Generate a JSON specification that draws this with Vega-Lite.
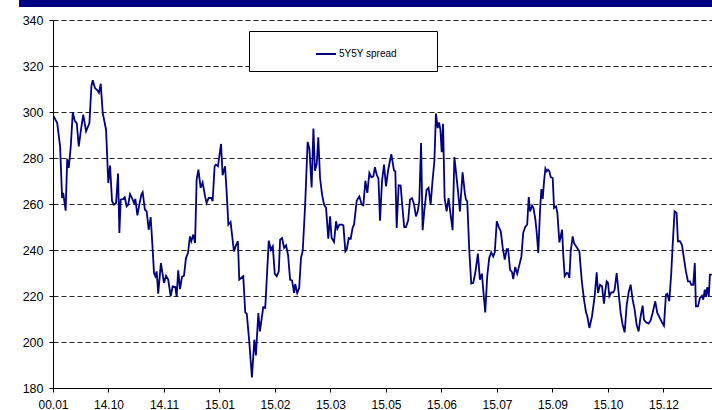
{
  "$schema": "https://vega.github.io/schema/vega-lite/v6.json",
  "width": 659,
  "height": 368,
  "autosize": {"type": "none"},
  "padding": {"left": 53, "top": 20, "right": 0, "bottom": 22},
  "background": "white",
  "config": {"view": {"stroke": null}, "font": "Liberation Sans"},
  "layer": [
    {
      "data": {"values": [{}]},
      "mark": {"type": "rect", "color": "#000080", "clip": false},
      "encoding": {
        "x": {"datum": -15.3, "type": "quantitative"},
        "x2": {"datum": 297},
        "y": {"datum": 345.6, "type": "quantitative"},
        "y2": {"datum": 352}
      }
    },
    {
      "data": {"values": [
        {"day":0,"spread":298.6},{"day":1.9,"spread":295.2},{"day":3.2,"spread":285},{"day":4.1,"spread":262.6},{"day":4.6,"spread":264.8},{"day":5.7,"spread":257.1},{"day":6.4,"spread":279.6},{"day":7.1,"spread":275.7},{"day":8.0,"spread":285},{"day":8.9,"spread":299.9},{"day":9.8,"spread":296.2},{"day":10.7,"spread":295.2},{"day":11.6,"spread":285},{"day":12.5,"spread":291.6},{"day":13.6,"spread":298.8},{"day":14.9,"spread":291.6},{"day":16.4,"spread":295.2},{"day":17.3,"spread":311.2},{"day":17.9,"spread":313.8},{"day":18.9,"spread":310.4},{"day":20.0,"spread":309.4},{"day":20.7,"spread":308.3},{"day":21.5,"spread":312.3},{"day":22.4,"spread":299.6},{"day":23.9,"spread":292.3},{"day":24.9,"spread":269.1},{"day":25.7,"spread":276.7},{"day":26.6,"spread":261.2},{"day":27.5,"spread":259.7},{"day":28.4,"spread":260.4},{"day":29.3,"spread":273.2},{"day":29.9,"spread":247.4},{"day":30.5,"spread":261.9},{"day":31.7,"spread":262.2},{"day":32.3,"spread":262.9},{"day":33.2,"spread":259},{"day":33.9,"spread":259.7},{"day":34.7,"spread":264.3},{"day":35.6,"spread":262.6},{"day":36.5,"spread":260.4},{"day":37.1,"spread":262.2},{"day":38.0,"spread":255.1},{"day":38.9,"spread":259.7},{"day":39.8,"spread":264.1},{"day":40.4,"spread":265.1},{"day":41.4,"spread":257.5},{"day":42.2,"spread":256.8},{"day":43.1,"spread":248.8},{"day":44.0,"spread":254.3},{"day":44.9,"spread":240.1},{"day":45.5,"spread":230},{"day":46.1,"spread":228.6},{"day":46.7,"spread":230.7},{"day":47.4,"spread":221},{"day":48.6,"spread":234.3},{"day":49.4,"spread":229.3},{"day":50.0,"spread":225.7},{"day":50.9,"spread":228.8},{"day":51.9,"spread":227.1},{"day":53.0,"spread":219.9},{"day":53.9,"spread":224.2},{"day":55.1,"spread":223.9},{"day":55.7,"spread":219.6},{"day":56.4,"spread":231.2},{"day":57.2,"spread":223},{"day":58.1,"spread":228.3},{"day":59.0,"spread":228.8},{"day":59.9,"spread":236.5},{"day":60.8,"spread":238.7},{"day":61.7,"spread":245.9},{"day":62.3,"spread":243.8},{"day":63.2,"spread":246.7},{"day":64.0,"spread":243},{"day":64.7,"spread":270.6},{"day":65.5,"spread":274.9},{"day":66.5,"spread":267},{"day":67.4,"spread":269.4},{"day":68.5,"spread":263.3},{"day":69.2,"spread":260.4},{"day":70.1,"spread":262.6},{"day":71.3,"spread":262.6},{"day":71.9,"spread":261.2},{"day":72.8,"spread":276.4},{"day":73.4,"spread":277.1},{"day":74.3,"spread":276.4},{"day":75.7,"spread":286.1},{"day":76.4,"spread":272.5},{"day":77.5,"spread":276.4},{"day":78.2,"spread":265.5},{"day":79.0,"spread":251},{"day":80.0,"spread":252.2},{"day":81.5,"spread":239.4},{"day":82.4,"spread":242},{"day":83.3,"spread":243.8},{"day":83.9,"spread":227.1},{"day":85.7,"spread":228.6},{"day":86.6,"spread":212.9},{"day":87.3,"spread":212.2},{"day":88.4,"spread":200.3},{"day":89.6,"spread":184.6},{"day":90.7,"spread":201},{"day":91.4,"spread":194.2},{"day":92.5,"spread":212.6},{"day":93.2,"spread":204.6},{"day":94.7,"spread":215.1},{"day":95.6,"spread":214.8},{"day":97.2,"spread":244.1},{"day":98.1,"spread":240.1},{"day":99.0,"spread":241.6},{"day":99.9,"spread":229.6},{"day":100.8,"spread":228.6},{"day":101.7,"spread":230.7},{"day":102.3,"spread":244.5},{"day":103.2,"spread":245.2},{"day":104.1,"spread":240.9},{"day":105.0,"spread":242},{"day":105.9,"spread":237.7},{"day":106.8,"spread":227.1},{"day":107.7,"spread":226.7},{"day":108.6,"spread":221.3},{"day":109.1,"spread":225.2},{"day":110.0,"spread":221.3},{"day":110.9,"spread":223.5},{"day":111.7,"spread":236.5},{"day":112.5,"spread":239.7},{"day":113.6,"spread":260},{"day":114.7,"spread":287},{"day":115.5,"spread":284.1},{"day":116.5,"spread":267.2},{"day":117.3,"spread":292.8},{"day":118.0,"spread":274.5},{"day":118.8,"spread":277.4},{"day":119.5,"spread":289},{"day":120.3,"spread":271.3},{"day":121.2,"spread":264.1},{"day":122.1,"spread":259.7},{"day":123.0,"spread":258.3},{"day":124.0,"spread":244.9},{"day":124.8,"spread":254.6},{"day":125.5,"spread":245.2},{"day":126.6,"spread":243.5},{"day":127.5,"spread":252.5},{"day":128.1,"spread":249.3},{"day":129.0,"spread":251},{"day":130.2,"spread":251},{"day":130.8,"spread":250.7},{"day":131.7,"spread":239.4},{"day":132.3,"spread":240.1},{"day":133.2,"spread":245.2},{"day":134.1,"spread":244.9},{"day":135.0,"spread":249.9},{"day":135.6,"spread":251},{"day":136.8,"spread":261.4},{"day":138.0,"spread":263.3},{"day":139.1,"spread":259.7},{"day":139.8,"spread":259.4},{"day":140.7,"spread":270.1},{"day":141.6,"spread":264.8},{"day":142.5,"spread":273.5},{"day":143.4,"spread":271.6},{"day":144.3,"spread":272},{"day":145.0,"spread":276},{"day":145.8,"spread":272.8},{"day":146.6,"spread":271},{"day":147.3,"spread":252.7},{"day":148.2,"spread":269.9},{"day":149.1,"spread":277.1},{"day":150.0,"spread":267.7},{"day":151.0,"spread":274.9},{"day":152.4,"spread":281.7},{"day":153.6,"spread":274.6},{"day":154.2,"spread":274.2},{"day":154.8,"spread":249.6},{"day":155.7,"spread":268.1},{"day":156.6,"spread":268},{"day":157.5,"spread":257.5},{"day":158.2,"spread":250},{"day":159.0,"spread":250},{"day":160.0,"spread":252.9},{"day":160.8,"spread":261.9},{"day":161.7,"spread":262.5},{"day":162.6,"spread":260.1},{"day":163.5,"spread":254.6},{"day":164.3,"spread":256.8},{"day":165.0,"spread":261.2},{"day":165.8,"spread":286.5},{"day":166.5,"spread":248.6},{"day":167.3,"spread":257.5},{"day":168.3,"spread":266.2},{"day":169.2,"spread":267},{"day":170.1,"spread":259.7},{"day":171.0,"spread":270.6},{"day":171.8,"spread":278.6},{"day":172.5,"spread":299.3},{"day":173.3,"spread":293},{"day":173.9,"spread":295.5},{"day":174.5,"spread":292.3},{"day":175.1,"spread":282.5},{"day":175.7,"spread":294.9},{"day":176.4,"spread":262.6},{"day":177.3,"spread":256.8},{"day":178.2,"spread":262.6},{"day":179.1,"spread":255.4},{"day":180.0,"spread":248.6},{"day":180.8,"spread":280.4},{"day":181.5,"spread":274.2},{"day":182.4,"spread":265.9},{"day":183.3,"spread":256.8},{"day":184.5,"spread":273.8},{"day":185.5,"spread":264.8},{"day":186.0,"spread":261.9},{"day":186.6,"spread":261.2},{"day":187.5,"spread":240.1},{"day":188.4,"spread":225.4},{"day":189.3,"spread":225.7},{"day":190.2,"spread":230},{"day":191.4,"spread":238.4},{"day":192.3,"spread":227.1},{"day":193.2,"spread":229.7},{"day":193.8,"spread":222.8},{"day":194.7,"spread":212.9},{"day":195.6,"spread":228.6},{"day":196.5,"spread":236.5},{"day":197.4,"spread":239},{"day":198.3,"spread":237.2},{"day":199.0,"spread":239},{"day":199.9,"spread":252.5},{"day":200.8,"spread":250},{"day":201.7,"spread":248.1},{"day":202.6,"spread":240.9},{"day":203.5,"spread":235.8},{"day":204.4,"spread":240.4},{"day":205.0,"spread":240.4},{"day":205.9,"spread":231.4},{"day":206.8,"spread":230.3},{"day":207.3,"spread":227.4},{"day":208.2,"spread":232.6},{"day":209.1,"spread":229.7},{"day":210.0,"spread":233.2},{"day":211.0,"spread":237.2},{"day":211.8,"spread":247.4},{"day":212.7,"spread":250},{"day":213.6,"spread":251},{"day":214.3,"spread":263},{"day":214.9,"spread":256.8},{"day":215.8,"spread":259.3},{"day":216.4,"spread":258.3},{"day":217.3,"spread":253.2},{"day":217.9,"spread":247.4},{"day":218.6,"spread":238.7},{"day":219.4,"spread":257.5},{"day":220.0,"spread":266.5},{"day":220.6,"spread":262.2},{"day":221.2,"spread":269.9},{"day":221.8,"spread":275.4},{"day":222.4,"spread":274.2},{"day":223.0,"spread":274.9},{"day":223.6,"spread":274.2},{"day":224.2,"spread":271.7},{"day":225.1,"spread":271.3},{"day":225.7,"spread":258.3},{"day":226.6,"spread":259},{"day":227.2,"spread":256.1},{"day":228.1,"spread":243.3},{"day":228.7,"spread":245.9},{"day":229.3,"spread":248.8},{"day":229.9,"spread":237.2},{"day":230.5,"spread":228.6},{"day":231.4,"spread":230},{"day":232.1,"spread":229.7},{"day":232.6,"spread":227.8},{"day":233.2,"spread":239.4},{"day":234.1,"spread":245.9},{"day":234.7,"spread":243},{"day":235.6,"spread":241.6},{"day":237.1,"spread":239.4},{"day":238.2,"spread":226.4},{"day":239.2,"spread":218.4},{"day":240.1,"spread":212.9},{"day":240.7,"spread":211.2},{"day":241.6,"spread":206.1},{"day":242.8,"spread":211.2},{"day":244.0,"spread":219.9},{"day":244.9,"spread":230.3},{"day":245.5,"spread":221.3},{"day":246.4,"spread":224.9},{"day":247.3,"spread":224.2},{"day":248.2,"spread":216.7},{"day":248.8,"spread":222.5},{"day":249.4,"spread":226.4},{"day":250.0,"spread":225.7},{"day":250.6,"spread":219.9},{"day":251.5,"spread":221.6},{"day":252.4,"spread":221.6},{"day":253.0,"spread":222.8},{"day":253.9,"spread":230},{"day":254.8,"spread":221.3},{"day":255.7,"spread":212.6},{"day":256.6,"spread":207.5},{"day":257.5,"spread":204.2},{"day":258.4,"spread":215.8},{"day":259.3,"spread":221.6},{"day":260.2,"spread":224.9},{"day":261.1,"spread":218.4},{"day":262.0,"spread":214.1},{"day":262.9,"spread":207.5},{"day":263.8,"spread":204.6},{"day":264.7,"spread":211.2},{"day":265.6,"spread":215.8},{"day":266.2,"spread":209.7},{"day":267.1,"spread":208.6},{"day":268.3,"spread":208},{"day":269.2,"spread":209.4},{"day":270.1,"spread":212.6},{"day":271.3,"spread":217.7},{"day":272.2,"spread":212.6},{"day":273.4,"spread":210.4},{"day":274.3,"spread":208.6},{"day":275.2,"spread":207.1},{"day":276.1,"spread":220.6},{"day":276.7,"spread":221},{"day":277.6,"spread":217.7},{"day":278.5,"spread":230},{"day":279.1,"spread":241.6},{"day":280.0,"spread":256.8},{"day":280.9,"spread":256.1},{"day":281.5,"spread":243.8},{"day":282.4,"spread":243.8},{"day":283.3,"spread":242.3},{"day":284.2,"spread":236.5},{"day":285.1,"spread":230.7},{"day":286.0,"spread":226.4},{"day":286.9,"spread":226.4},{"day":287.5,"spread":224.9},{"day":288.4,"spread":224.9},{"day":289.1,"spread":234.3},{"day":289.6,"spread":215.5},{"day":290.5,"spread":215.5},{"day":291.4,"spread":219.1},{"day":292.3,"spread":220.1},{"day":292.9,"spread":218.4},{"day":293.6,"spread":222.8},{"day":294.1,"spread":219.6},{"day":294.7,"spread":223.8},{"day":295.4,"spread":219.6},{"day":295.9,"spread":229.3},{"day":296.8,"spread":229.3}
      ]},
      "mark": {"type": "line", "strokeWidth": 1.8, "clip": true},
      "encoding": {
        "x": {
          "field": "day",
          "type": "quantitative",
          "scale": {"domain": [0, 296.85], "nice": false, "zero": false},
          "axis": {
            "values": [0, 25, 50, 75, 100, 125, 150, 175, 200, 225, 250, 275],
            "labelExpr": "['00.01','14.10','14.11','15.01','15.02','15.03','15.05','15.06','15.07','15.09','15.10','15.12'][round(datum.value / 25)]",
            "title": null,
            "grid": false,
            "domainColor": "#000000",
            "domainWidth": 1,
            "tickColor": "#000000",
            "tickSize": 4,
            "labelFontSize": 12,
            "labelColor": "#000000",
            "labelPadding": 7,
            "labelFlush": false,
            "labelOverlap": false,
            "labelBound": false
          }
        },
        "y": {
          "field": "spread",
          "type": "quantitative",
          "scale": {"domain": [180, 340], "nice": false, "zero": false},
          "axis": {
            "values": [180, 200, 220, 240, 260, 280, 300, 320, 340],
            "title": null,
            "grid": true,
            "gridDash": [5, 3],
            "gridColor": "#222222",
            "gridWidth": 1,
            "domainColor": "#000000",
            "domainWidth": 1,
            "tickColor": "#000000",
            "tickSize": 4,
            "labelFontSize": 12.5,
            "labelColor": "#000000",
            "labelPadding": 6,
            "labelOverlap": false,
            "labelFlush": false
          }
        },
        "color": {
          "datum": "5Y5Y spread",
          "type": "nominal",
          "scale": {"range": ["#000080"]},
          "legend": {
            "orient": "none",
            "legendX": 196,
            "legendY": 11,
            "title": null,
            "fillColor": "#ffffff",
            "strokeColor": "#000000",
            "padding": 12,
            "symbolType": "stroke",
            "symbolSize": 400,
            "symbolStrokeWidth": 2,
            "symbolOffset": 54,
            "labelFontSize": 10,
            "labelOffset": 2,
            "labelColor": "#000000",
            "labelExpr": "datum.label + '\u2800\u2800\u2800\u2800'"
          }
        }
      }
    }
  ]
}
